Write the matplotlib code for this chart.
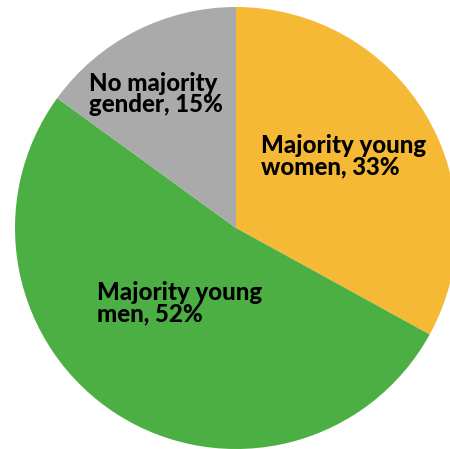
import matplotlib.pyplot as plt

# slice data, clockwise from 12 o'clock
labels = ['Majority young\nwomen, 33%', 'Majority young\nmen, 52%', 'No majority\ngender, 15%']
shares = [33, 52, 15]
colors = ['#F5B935', '#4CAF43', '#AAAAAA']

W, H = 450, 449
fig = plt.figure(figsize=(W / 100, H / 100), dpi=100)
ax = fig.add_axes([0, 0, 1, 1])

ax.pie(shares, colors=colors, startangle=90, counterclock=False,
       center=(236, H - 228), radius=221,
       wedgeprops=dict(linewidth=0))

# label anchors (left edge, vertical middle) in pixel coords
label_pos = [(261, H - 156), (97, H - 303), (89, H - 94)]
for txt, (x, y) in zip(labels, label_pos):
    ax.text(x, y, txt, ha='left', va='center', fontsize=17.3,
            fontweight='black', family='Lato', linespacing=0.92, color='black')

ax.set_xlim(0, W)
ax.set_ylim(0, H)
ax.set_aspect('equal')
ax.axis('off')

fig.savefig('out.png', dpi=100)
